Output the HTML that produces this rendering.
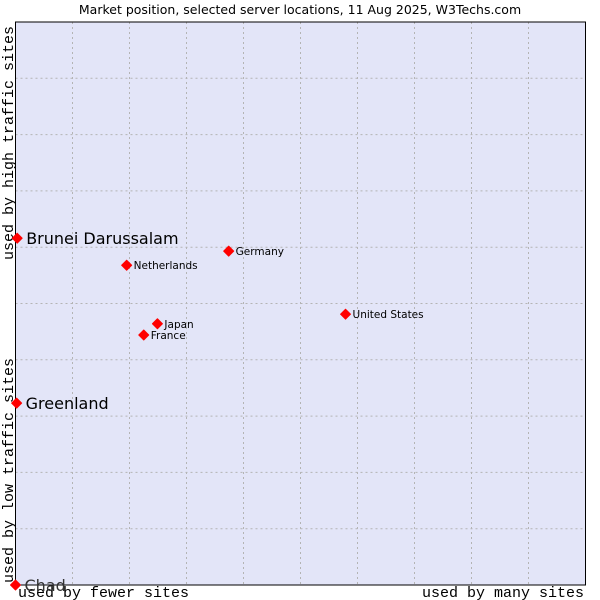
<!DOCTYPE html>
<html><head><meta charset="utf-8"><style>
body{margin:0;background:#fff;}
svg{display:block;}
</style></head><body>
<svg id="c" width="600" height="600" xmlns="http://www.w3.org/2000/svg">
<text x="300" y="14" text-anchor="middle" font-family="'DejaVu Sans',sans-serif" font-size="12.5" fill="#000">Market position, selected server locations, 11 Aug 2025, W3Techs.com</text>
<rect x="15.5" y="22" width="570" height="563" fill="#e3e5f8"/>
<g id="grid"></g>
<path d="M15.5 22 H585.5 V585 H15.5 Z" fill="none" stroke="#000" stroke-width="1"/>
<text x="18" y="597" font-family="'Liberation Mono',monospace" font-size="15">used by fewer sites</text>
<text x="584" y="597" text-anchor="end" font-family="'Liberation Mono',monospace" font-size="15">used by many sites</text>
<text transform="translate(13,583) rotate(-90)" font-family="'Liberation Mono',monospace" font-size="15">used by low traffic sites</text>
<text transform="translate(13,260) rotate(-90)" font-family="'Liberation Mono',monospace" font-size="15">used by high traffic sites</text>
<g id="pts"></g>
</svg>
<script>
const names=["Brunei Darussalam","Greenland","Chad","Netherlands","Germany","United States","Japan","France"];
const xVals=[0.3,0.2,0,19.5,37.4,57.9,24.9,22.5];
const yVals=[61.6,32.3,0,56.8,59.3,48.1,46.4,44.4];
const highlighted=[true,true,true,false,false,false,false,false];
const NS="http://www.w3.org/2000/svg";
const X0=15.5,X1=585.5,Y0=585,Y1=22;
function sx(v){return X0+(X1-X0)*v/100;}
function sy(v){return Y0-(Y0-Y1)*v/100;}
const grid=document.getElementById('grid');
for(let i=1;i<10;i++){
  const v=document.createElementNS(NS,'line');
  v.setAttribute('x1',sx(i*10));v.setAttribute('x2',sx(i*10));v.setAttribute('y1',Y1);v.setAttribute('y2',Y0);
  v.setAttribute('stroke','#b4b4b4');v.setAttribute('stroke-dasharray','2,3');
  
  
  grid.appendChild(v);
  const h=document.createElementNS(NS,'line');
  h.setAttribute('y1',sy(i*10));h.setAttribute('y2',sy(i*10));h.setAttribute('x1',X0);h.setAttribute('x2',X1);
  h.setAttribute('stroke','#b4b4b4');h.setAttribute('stroke-dasharray','2,3');
  
  
  grid.appendChild(h);
}
const pts=document.getElementById('pts');
names.forEach((n,i)=>{
  const x=sx(xVals[i]),y=sy(yVals[i]);
  const d=document.createElementNS(NS,'path');
  d.setAttribute('d',`M${x} ${y-5}L${x+5} ${y}L${x} ${y+5}L${x-5} ${y}Z`);
  d.setAttribute('fill','#ff0000');
  d.setAttribute('stroke','#ff0000');
  d.setAttribute('stroke-width','1');
  d.setAttribute('stroke-linejoin','round');
  
  
  pts.appendChild(d);
  const t=document.createElementNS(NS,'text');
  t.setAttribute('x',x+(highlighted[i]?9:7));
  t.setAttribute('y',y+(highlighted[i]?6:4));
  t.setAttribute('font-family',"'DejaVu Sans','Liberation Sans',sans-serif");
  t.setAttribute('font-size',highlighted[i]?'16':'10.5');
  t.setAttribute('fill','#000');
  if(highlighted[i]&&yVals[i]===0)t.setAttribute('fill','#333');
  t.textContent=n;
  
  
  pts.appendChild(t);
});
</script>
</body></html>
